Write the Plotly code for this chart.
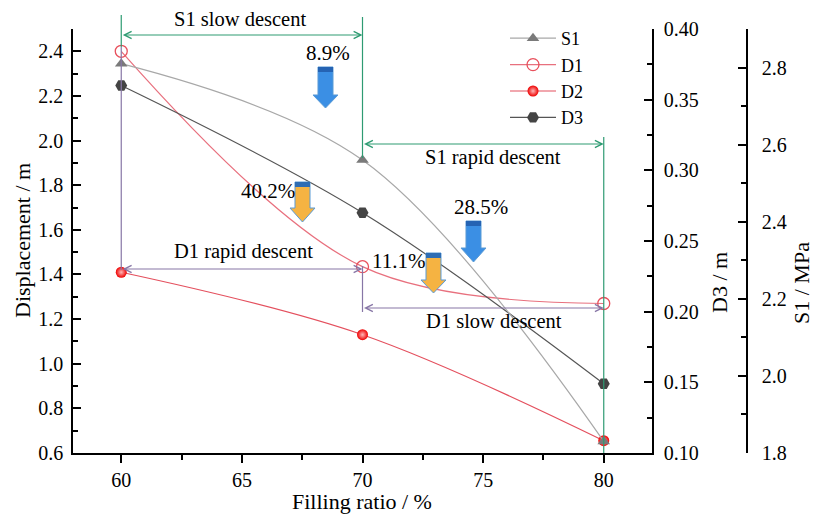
import plotly.graph_objects as go

# ---------------- data ----------------
filling_ratio = [60, 70, 80]
S1 = [2.81, 2.56, 1.83]      # MPa (right outer axis)
D1 = [2.40, 1.435, 1.27]     # m (left axis)
D2 = [1.41, 1.13, 0.655]     # m (left axis)
D3 = [0.36, 0.27, 0.149]     # m (right inner axis)

x_ticks = [60, 65, 70, 75, 80]
pct_labels = ["8.9%", "40.2%", "28.5%", "11.1%"]

# ---------------- layout helpers ----------------
W, H = 816, 519
ML, MR, MT, MB = 73, 56, 29, 66
PW = W - ML - MR
PH = H - MT - MB
X_RANGE = [58, 82]
Y_RANGE = [0.6, 2.5]
DOM = (652 - ML) / PW


def px_x(px):
    return (px - ML) / PW


def px_y(py):
    return (H - MB - py) / PH


def dx(v):
    return (v - X_RANGE[0]) / (X_RANGE[1] - X_RANGE[0]) * DOM


def py_data(py):
    return Y_RANGE[0] + px_y(py) * (Y_RANGE[1] - Y_RANGE[0])


FONT = "Liberation Serif"
GREEN = "#2e9b72"
PURPLE = "#8776a6"

fig = go.Figure()

fig.add_trace(go.Scatter(
    x=filling_ratio, y=S1, name="S1", yaxis="y3",
    mode="lines+markers", line=dict(color="#a8a8a8", width=1.2, shape="spline", smoothing=1),
    marker=dict(symbol="triangle-up", size=11, color="#7a7a7a")))
fig.add_trace(go.Scatter(
    x=filling_ratio, y=D1, name="D1", yaxis="y",
    mode="lines+markers", line=dict(color="#e8707e", width=1.2, shape="spline", smoothing=1),
    marker=dict(symbol="circle-open", size=12, color="#e8505c", line=dict(width=1.3))))
fig.add_trace(go.Scatter(
    x=filling_ratio, y=D2, name="D2", yaxis="y",
    mode="lines+markers", line=dict(color="#e4505e", width=1.2, shape="spline", smoothing=1),
    marker=dict(symbol="circle", size=11, color="#ee0000",
                gradient=dict(type="radial", color="#ffb8b8"), line=dict(width=0))))
fig.add_trace(go.Scatter(
    x=filling_ratio, y=D3, name="D3", yaxis="y2",
    mode="lines+markers", line=dict(color="#555555", width=1.2, shape="spline", smoothing=1),
    marker=dict(symbol="hexagon2", size=12, color="#444444")))

shapes = []
annotations = []


def vline(xv, py0, py1, color):
    shapes.append(dict(type="line", xref="paper", yref="paper",
                       x0=dx(xv), x1=dx(xv), y0=px_y(py0), y1=px_y(py1),
                       line=dict(color=color, width=1.2)))


def harrow(x0v, x1v, py, color):
    annotations.append(dict(xref="x", yref="y", axref="x", ayref="y",
                            x=x1v, y=py_data(py), ax=x0v, ay=py_data(py),
                            text="", showarrow=True, arrowhead=5, startarrowhead=5,
                            arrowside="end+start", arrowsize=1.3, startarrowsize=1.3,
                            arrowwidth=1.1, arrowcolor=color, standoff=0, startstandoff=0))


def label(text, pxc, pyc, size=20.5, angle=0):
    annotations.append(dict(xref="paper", yref="paper", x=px_x(pxc), y=px_y(pyc),
                            text=text, showarrow=False, xanchor="center", yanchor="middle",
                            textangle=angle,
                            font=dict(family=FONT, size=size, color="black")))


def block_arrow(cx, top, body_bot, tip, fill, band, hb=7.5, hh=12.5):
    pts = [(cx - hb, top), (cx + hb, top), (cx + hb, body_bot), (cx + hh, body_bot),
           (cx, tip), (cx - hh, body_bot), (cx - hb, body_bot)]
    path = "M " + " L ".join(f"{px_x(a):.5f},{px_y(b):.5f}" for a, b in pts) + " Z"
    shapes.append(dict(type="path", xref="paper", yref="paper", path=path,
                       fillcolor=fill, line=dict(color="#5b9bd5", width=1)))
    band_pts = [(cx - hb, top), (cx + hb, top), (cx + hb, top + 5), (cx - hb, top + 5)]
    bpath = "M " + " L ".join(f"{px_x(a):.5f},{px_y(b):.5f}" for a, b in band_pts) + " Z"
    shapes.append(dict(type="path", xref="paper", yref="paper", path=bpath,
                       fillcolor=band, line=dict(width=0)))


# guide lines
vline(60, 15, 47, GREEN)
vline(60, 47, 270, PURPLE)
vline(70, 17, 158, GREEN)
vline(80, 137, 453, GREEN)
vline(70, 266, 312, PURPLE)
harrow(60, 70, 35, GREEN)
harrow(70, 80, 144, GREEN)
harrow(60, 70, 269, PURPLE)
harrow(70, 80, 308, PURPLE)

# block arrows
block_arrow(325.5, 67, 95, 108, "#3b8fe4", "#2563b3")
block_arrow(302.5, 182, 208, 222, "#f5b342", "#2e6db4")
block_arrow(473.5, 221, 248, 262, "#3b8fe4", "#2563b3")
block_arrow(433.5, 253, 280, 293, "#f5b342", "#2e6db4")

# text labels
label("S1 slow descent", 240, 19)
label("S1 rapid descent", 493, 157)
label("D1 rapid descent", 243, 251)
label("D1 slow descent", 494, 321)
label(pct_labels[0], 328, 53, 21)
label(pct_labels[1], 268, 191, 21)
label(pct_labels[2], 481, 207, 21)
label(pct_labels[3], 398, 261, 21)

# axis titles
label("Filling ratio / %", 362, 501, 22)
label("Displacement / m", 22, 240, 22, -90)
label("D3 / m", 719, 283, 22, -90)
label("S1 / MPa", 801, 283, 22, -90)

axis_common = dict(showgrid=False, zeroline=False, showline=True, linecolor="black",
                   linewidth=1.5, tickcolor="black", ticklen=8, tickwidth=1.5,
                   tickfont=dict(family=FONT, size=20, color="black"))

fig.update_layout(
    width=W, height=H,
    margin=dict(l=ML, r=MR, t=MT, b=MB),
    paper_bgcolor="white", plot_bgcolor="white",
    font=dict(family=FONT, color="black"),
    xaxis=dict(domain=[0, DOM], range=X_RANGE, tickvals=x_ticks, ticks="outside",
               minor=dict(dtick=2.5, ticks="outside", ticklen=5, tickcolor="black", tickwidth=1.5),
               automargin=False, **axis_common),
    yaxis=dict(range=Y_RANGE, dtick=0.2, tick0=0.6, tickformat=".1f", ticks="inside",
               ticklabelstandoff=4,
               minor=dict(dtick=0.1, ticks="inside", ticklen=5, tickcolor="black", tickwidth=1.5),
               automargin=False, **axis_common),
    yaxis2=dict(range=[0.1, 0.4], dtick=0.05, tick0=0.1, tickformat=".2f", ticks="inside",
                overlaying="y", side="right", anchor="x", ticklabelstandoff=6,
                minor=dict(dtick=0.025, ticks="inside", ticklen=5, tickcolor="black", tickwidth=1.5),
                automargin=False, **axis_common),
    yaxis3=dict(range=[1.8, 2.9], tickvals=[1.8, 2.0, 2.2, 2.4, 2.6, 2.8], tickformat=".1f",
                ticks="inside", overlaying="y", side="right", anchor="free", position=px_x(747),
                ticklabelstandoff=10,
                minor=dict(tickvals=[1.9, 2.1, 2.3, 2.5, 2.7, 2.9], ticks="inside", ticklen=5,
                           tickcolor="black", tickwidth=1.5),
                automargin=False, **axis_common),
    legend=dict(x=px_x(505), y=px_y(20), xanchor="left", yanchor="top",
                font=dict(family=FONT, size=18, color="black"), bgcolor="rgba(0,0,0,0)",
                itemwidth=46, tracegroupgap=0),
    shapes=shapes,
    annotations=annotations,
)

fig.write_html("out.html", config={"displayModeBar": False},
               post_script="document.body.style.margin='0px';")
